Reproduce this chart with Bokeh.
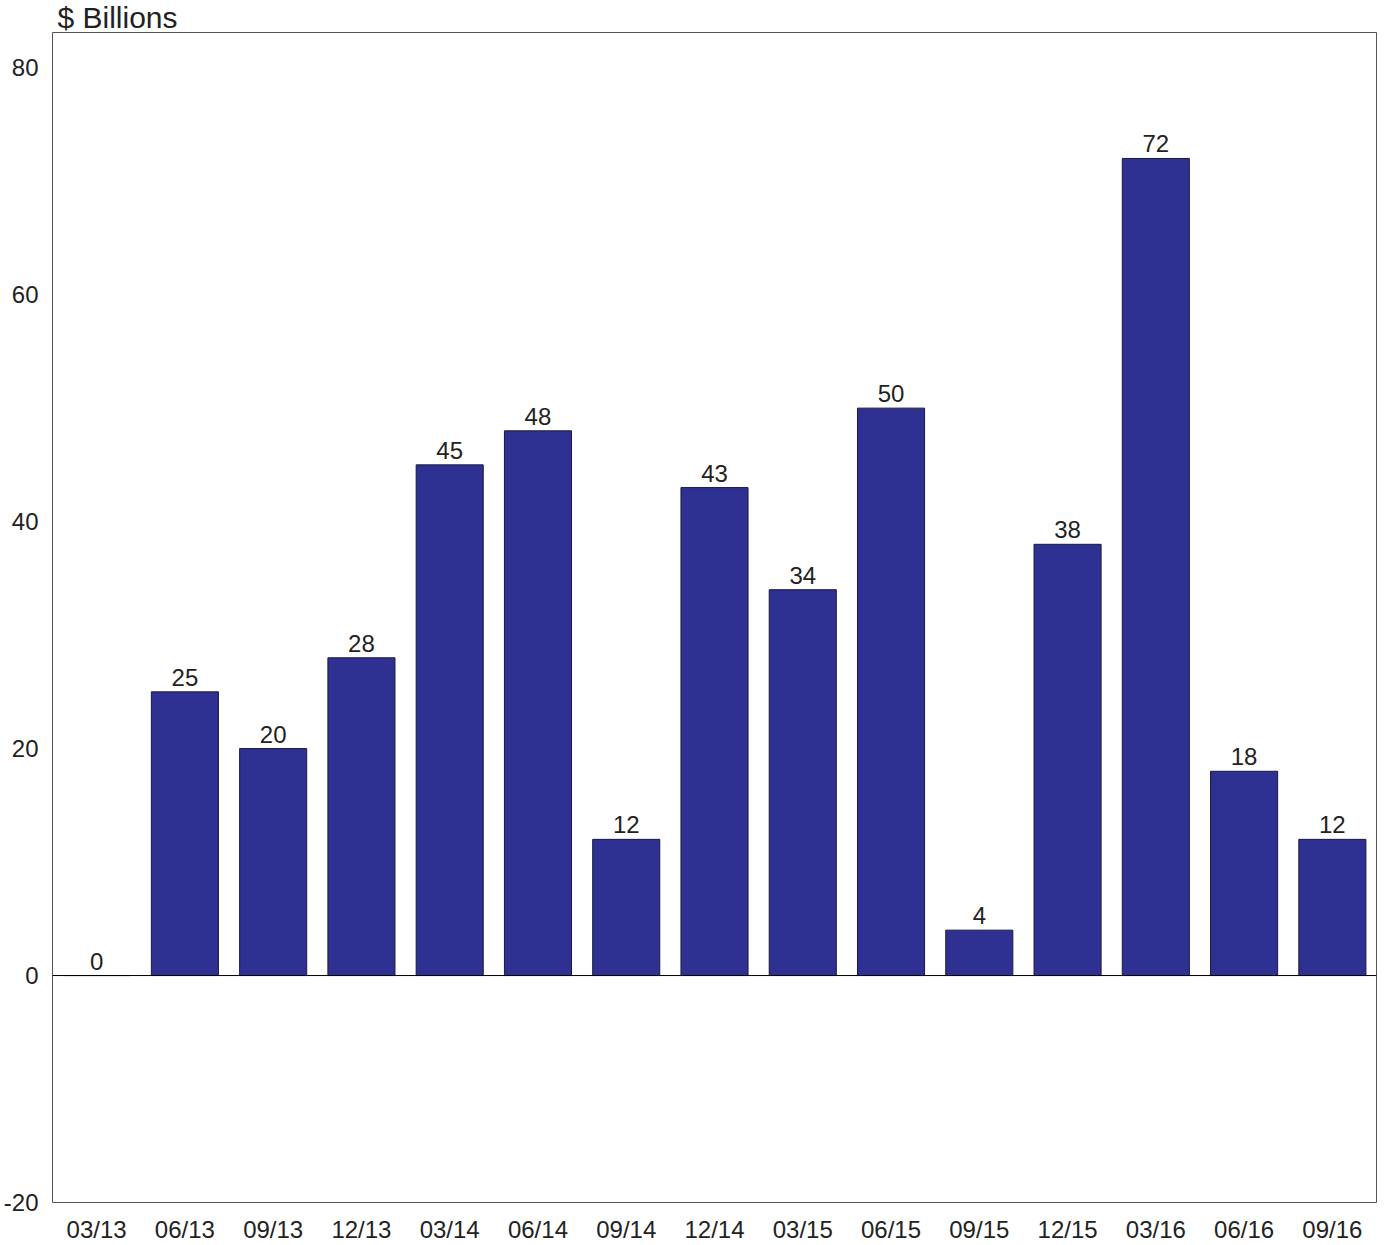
from bokeh.plotting import figure
from bokeh.models import ColumnDataSource, Span, Range1d, FixedTicker, Title
from bokeh.embed import file_html
from bokeh.resources import INLINE
from bokeh.core.properties import value

quarters = ["03/13", "06/13", "09/13", "12/13", "03/14", "06/14", "09/14", "12/14",
            "03/15", "06/15", "09/15", "12/15", "03/16", "06/16", "09/16"]
values = [0, 25, 20, 28, 45, 48, 12, 43, 34, 50, 4, 38, 72, 18, 12]
y_ticks = [-20, 0, 20, 40, 60, 80]
Y_MIN, Y_MAX = -20, 83.1

src = ColumnDataSource(dict(q=quarters, v=values, lbl=[str(v) for v in values]))

FONT = "Liberation Sans"
p = figure(x_range=quarters, y_range=Range1d(Y_MIN, Y_MAX), width=1385, height=1245,
           output_backend="svg", toolbar_location=None,
           min_border_left=52, min_border_right=9, min_border_top=0, min_border_bottom=0)

p.add_layout(Title(text="$ Billions", text_font=FONT, text_font_size="30px",
                   text_font_style="normal", text_color="#222222", offset=5,
                   standoff=-3), "above")

p.vbar(x="q", top="v", bottom=0, width=0.76, source=src,
       fill_color="#2E3092", line_color="#1a1a3a", line_width=1)

p.text(x="q", y="v", text="lbl", source=src, text_align="center", text_baseline="bottom",
       y_offset=-6, text_font=value(FONT), text_font_size="24px", text_color="#222222")

p.add_layout(Span(location=0, dimension="width", line_color="black", line_width=1))

p.xgrid.grid_line_color = None
p.ygrid.grid_line_color = None
p.outline_line_color = "#555555"
p.outline_line_width = 1

p.yaxis.ticker = FixedTicker(ticks=y_ticks)
p.yaxis.major_label_overrides = {t: str(t) for t in y_ticks}
for ax in (p.xaxis[0], p.yaxis[0]):
    ax.axis_line_color = None
    ax.major_tick_line_color = None
    ax.minor_tick_line_color = None
    ax.major_label_text_font = FONT
    ax.major_label_text_font_size = "24px"
    ax.major_label_text_color = "#222222"
p.yaxis.major_label_standoff = 8
p.xaxis.major_label_standoff = 7
p.x_range.range_padding = 0

open("out.html", "w").write(file_html(p, INLINE))
